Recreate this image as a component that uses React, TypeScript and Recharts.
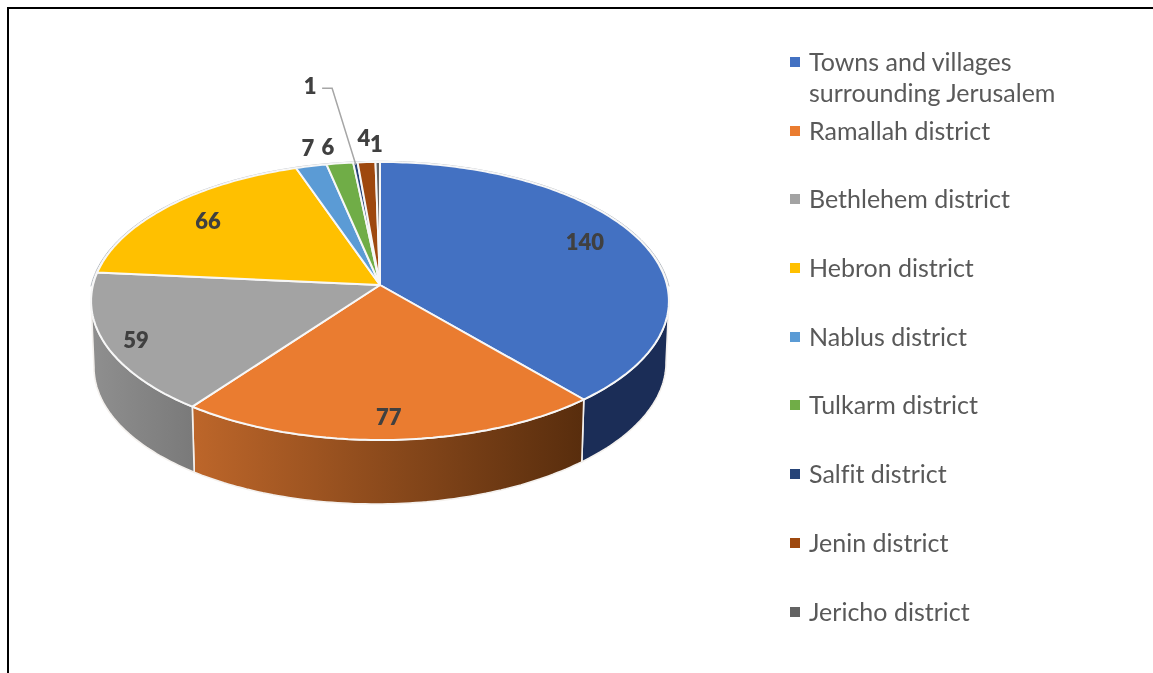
import React from 'react';
import { PieChart, Pie, Legend } from 'recharts';

const districts = [
  'Towns and villages surrounding Jerusalem',
  'Ramallah district',
  'Bethlehem district',
  'Hebron district',
  'Nablus district',
  'Tulkarm district',
  'Salfit district',
  'Jenin district',
  'Jericho district',
];
const counts = [140, 77, 59, 66, 7, 6, 1, 4, 1];
const colors = ['#4371C2', '#EA7C30', '#A3A3A3', '#FFC000', '#5B9BD5', '#70AD47', '#264478', '#9E480E', '#636363'];
const wallShades: Record<number, [string, string]> = {
  0: ['#1B2D57', '#1B2D57'],
  1: ['#BD662A', '#582D0D'],
  2: ['#8F8F8F', '#7A7A7A'],
};

const data = districts.map((name, i) => ({ name, value: counts[i], fill: colors[i] }));

// where each label sits: fraction of the radius, then a small nudge
const labelRadius = [0.8, 0.8, 0.9, 0.8, 1.15, 1.15, 1.15, 1.15, 1.15];
const labelNudge = [[-4, -7], [0, 11], [2, 2], [-1, 0], [6, -3], [-6.5, -1], [-42, -61], [-1, -8], [-1, -2]];
const legendTops = [46, 115, 183, 252, 321, 389, 458, 527, 596];

// tilted disc: perspective squash of the round pie, apex stays at cx/cy
const TILT = 0.115;
const SQUASH_Y = 0.478;
const DEPTH = 64;
const DEPTH_SKEW = 0.008;
const WALL_SCALE_X = 0.99;
const WALL_FROM = 96.6;
const WALL_TO = 263.4;

const project = (cx: number, cy: number, R: number, cw: number, r = 1) => {
  const u = r * Math.sin((cw * Math.PI) / 180);
  const v = r * Math.cos((cw * Math.PI) / 180);
  const d = 1 + TILT * v;
  return [cx + (R * u) / d, cy - (R * SQUASH_Y * v) / d];
};

const arc = (from: number, to: number, fn: (a: number) => number[]) => {
  const pts: number[][] = [];
  for (let a = from; a < to; a += 1) pts.push(fn(a));
  pts.push(fn(to));
  return pts;
};

const toPath = (pts: number[][]) => pts.map((p, i) => `${i ? 'L' : 'M'}${p[0].toFixed(1)},${p[1].toFixed(1)}`).join(' ');

const Slice3D = (props: any) => {
  const { cx, cy, outerRadius, startAngle, endAngle, fill, index } = props;
  const from = 90 - startAngle;
  const to = 90 - endAngle;
  const top = arc(from, to, (a) => project(cx, cy, outerRadius, a));
  const rim = (a: number) => project(cx, cy, outerRadius, a, 1.006);
  const wallA = Math.max(from, WALL_FROM);
  const wallB = Math.min(to, WALL_TO);
  let wall = null;
  if (wallB > wallA) {
    const upper = arc(wallA, wallB, (a) => project(cx, cy, outerRadius, a));
    const lower = upper.map((p) => {
      const dx = p[0] - cx;
      return [cx + dx * WALL_SCALE_X, p[1] + DEPTH - dx * DEPTH_SKEW];
    }).reverse();
    const shades = wallShades[index] || [fill, fill];
    const xs = upper.map((p) => p[0]);
    const id = `wall-${index}`;
    wall = (
      <g>
        <defs>
          <linearGradient id={id} gradientUnits="userSpaceOnUse" x1={Math.min(...xs)} x2={Math.max(...xs)} y1={0} y2={0}>
            <stop offset="0%" stopColor={shades[0]} />
            <stop offset="100%" stopColor={shades[1]} />
          </linearGradient>
        </defs>
        <path d={`${toPath(upper)} ${toPath(lower).replace('M', 'L')} Z`} fill={`url(#${id})`} stroke="#F4F1EE" strokeWidth={1.6} />
      </g>
    );
  }
  return (
    <g>
      {wall}
      {from < WALL_FROM && <path d={toPath(arc(from, Math.min(to, WALL_FROM - 6), rim))} fill="none" stroke="#B8BDC4" strokeWidth={1} />}
      {to > WALL_TO && <path d={toPath(arc(Math.max(from, WALL_TO + 6), to, rim))} fill="none" stroke="#B8BDC4" strokeWidth={1} />}
      <path d={`M${cx},${cy} ${toPath(top).replace('M', 'L')} Z`} fill={fill} stroke="#F7F7F7" strokeWidth={2} strokeLinejoin="round" />
    </g>
  );
};

const SliceLabel = (props: any) => {
  const { cx, cy, outerRadius, midAngle, value, index } = props;
  const cw = 90 - midAngle;
  const base = project(cx, cy, outerRadius, cw, labelRadius[index]);
  const x = base[0] + labelNudge[index][0];
  const y = base[1] + labelNudge[index][1];
  // Salfit is too thin for its label, so it gets a leader line
  const tip = project(cx, cy, outerRadius, cw, 0.98);
  return (
    <g>
      {index === 6 && (
        <polyline points={`${x + 12},${y + 3} ${x + 22},${y + 3} ${tip[0]},${tip[1]}`} fill="none" stroke="#A6A6A6" strokeWidth={1.5} />
      )}
      <text x={x} y={y} textAnchor="middle" dominantBaseline="central" fontFamily="Lato" fontWeight={800} fontSize={22} fill="#404040">
        {value}
      </text>
    </g>
  );
};

const LegendList = ({ payload }: any) => (
  <div style={{ position: 'relative', width: 340, height: 640 }}>
    {(payload || []).map((item: any, i: number) => (
      <div key={item.value} style={{ position: 'absolute', top: legendTops[i], left: 0, width: 280, display: 'flex', fontFamily: 'Lato', fontSize: 25, lineHeight: '31px', color: '#595959', fontVariantLigatures: 'none' }}>
        <span style={{ width: 10, height: 10, background: item.color, marginTop: 11, marginRight: 9, flexShrink: 0 }} />
        <span>{item.value}</span>
      </div>
    ))}
  </div>
);

export default function App() {
  return (
    <div>
      <div style={{ position: 'fixed', left: 7, top: 7, width: 1300, height: 800, border: '2px solid #000' }} />
      <div style={{ position: 'fixed', left: 0, top: 0 }}>
        <PieChart width={1153} height={673} margin={{ top: 0, right: 0, bottom: 0, left: 0 }}>
          <Pie
            data={data}
            dataKey="value"
            nameKey="name"
            cx={380}
            cy={285}
            outerRadius={287}
            startAngle={90}
            endAngle={-270}
            shape={Slice3D}
            label={SliceLabel}
            labelLine={false}
            isAnimationActive={false}
          />
          <Legend
            layout="vertical"
            align="right"
            verticalAlign="top"
            itemSorter={null}
            content={LegendList}
            wrapperStyle={{ left: 790, top: 0, right: 'auto', width: 340 }}
          />
        </PieChart>
      </div>
    </div>
  );
}
